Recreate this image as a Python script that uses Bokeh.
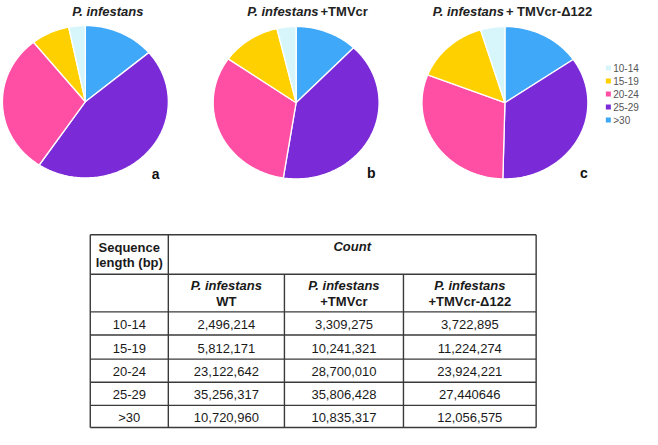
import numpy as np
from bokeh.plotting import figure
from bokeh.models import Range1d
from bokeh.embed import file_html
from bokeh.resources import INLINE
from bokeh.core.properties import value

# ---------------- data ----------------
size_classes = ["10-14", "15-19", "20-24", "25-29", ">30"]
wt_counts = ["2,496,214", "5,812,171", "23,122,642", "35,256,317", "10,720,960"]
tmv_counts = ["3,309,275", "10,241,321", "28,700,010", "35,806,428", "10,835,317"]
d122_counts = ["3,722,895", "11,224,274", "23,924,221", "27,440646", "12,056,575"]
colors = ["#d6f6fc", "#ffd000", "#ff4fa5", "#7a2ad6", "#3fa8f8"]
panel_letters = ["a", "b", "c"]
title_italic = ["P. infestans", "P. infestans", "P. infestans"]
title_plain = ["", "+TMVcr", "+ TMVcr-\u0394122"]
col_head_italic = ["P. infestans", "P. infestans", "P. infestans"]
col_head_plain = ["WT", "+TMVcr", "+TMVcr-\u0394122"]

FONT = value("Liberation Sans")

# ---------------- layout (reference pixel units) ----------------
W, H = 658, 445
p = figure(width=642, height=429, x_range=Range1d(0, W), y_range=Range1d(H, 0),
           toolbar_location=None, output_backend="svg", min_border=0)
p.axis.visible = False
p.grid.visible = False
p.outline_line_color = None
p.background_fill_color = "white"

centers = [(87, 105), (303, 106), (517, 106)]
rx, ry = 85, 79
series = [wt_counts, tmv_counts, d122_counts]

xs, ys, fills = [], [], []
for (cx, cy), counts in zip(centers, series):
    vals = np.array([int(s.replace(",", "")) for s in counts], float)
    frac = vals / vals.sum()
    start = 0.0
    for i in reversed(range(len(vals))):
        end = start + frac[i] * 2 * np.pi
        n = max(4, int(np.degrees(end - start)) + 2)
        t = np.linspace(start, end, n)
        xs.append([cx] + list(cx + rx * np.sin(t)))
        ys.append([cy] + list(cy - ry * np.cos(t)))
        fills.append(colors[i])
        start = end
p.patches(xs, ys, fill_color=fills, line_color="white", line_width=1.3)

# titles
split_x = [None, 326, 516]
for k in range(3):
    if split_x[k] is None:
        p.text(x=[110], y=[11], text=[title_italic[k]], text_font=FONT, text_font_size="13px",
               text_font_style="bold italic", text_align="center", text_baseline="middle",
               text_color="#222222")
    else:
        p.text(x=[split_x[k]], y=[11], text=[title_italic[k]], text_font=FONT, text_font_size="13px",
               text_font_style="bold italic", text_align="right", text_baseline="middle",
               text_color="#222222")
        p.text(x=[split_x[k] + 2], y=[11], text=[title_plain[k]], text_font=FONT, text_font_size="13px",
               text_font_style="bold", text_align="left", text_baseline="middle",
               text_color="#222222")

# panel letters
letter_pos = [(159, 180), (380, 179), (598, 179)]
p.text(x=[a for a, b in letter_pos], y=[b for a, b in letter_pos], text=panel_letters,
       text_font=FONT, text_font_size="14px", text_font_style="bold", text_align="center",
       text_baseline="middle", text_color="#111111")

# legend
leg_y = [70 + 13.5 * i for i in range(len(size_classes))]
p.scatter(x=[623] * len(size_classes), y=leg_y, marker="square", size=5, fill_color=colors,
          line_color=None)
p.text(x=[628] * len(size_classes), y=leg_y, text=size_classes, text_font=FONT,
       text_font_size="10px", text_align="left", text_baseline="middle", text_color="#555555")

# ---------------- table ----------------
col_edges = [92, 172, 291, 413, 549]
row_edges = [243, 284, 323, 347, 372, 396, 420, 443]
lc = "#3a3a3a"
lw = 1.4
# horizontal lines
p.segment(x0=[col_edges[0]] * len(row_edges), x1=[col_edges[-1]] * len(row_edges),
          y0=row_edges, y1=row_edges, line_color=lc, line_width=lw)
# vertical lines
vx = [col_edges[0], col_edges[1], col_edges[4], col_edges[2], col_edges[3]]
vy0 = [row_edges[0], row_edges[0], row_edges[0], row_edges[1], row_edges[1]]
p.segment(x0=vx, x1=vx, y0=vy0, y1=[row_edges[-1]] * 5, line_color=lc, line_width=lw)

tc = "#1a1a1a"
c1 = (col_edges[0] + col_edges[1]) / 2
p.text(x=[c1, c1], y=[256, 272], text=["Sequence", "length (bp)"], text_font=FONT,
       text_font_size="13px", text_font_style="bold", text_align="center",
       text_baseline="middle", text_color=tc)
p.text(x=[(col_edges[1] + col_edges[4]) / 2], y=[255], text=["Count"], text_font=FONT,
       text_font_size="13px", text_font_style="bold italic", text_align="center",
       text_baseline="middle", text_color=tc)
ccent = [(col_edges[j] + col_edges[j + 1]) / 2 for j in range(1, 4)]
p.text(x=ccent, y=[296] * 3, text=col_head_italic, text_font=FONT, text_font_size="13px",
       text_font_style="bold italic", text_align="center", text_baseline="middle", text_color=tc)
p.text(x=ccent, y=[312] * 3, text=col_head_plain, text_font=FONT, text_font_size="13px",
       text_font_style="bold", text_align="center", text_baseline="middle", text_color=tc)

rcent = [(row_edges[j] + row_edges[j + 1]) / 2 + 1 for j in range(2, 7)]
p.text(x=[c1] * 5, y=rcent, text=size_classes, text_font=FONT, text_font_size="13px",
       text_align="center", text_baseline="middle", text_color=tc)
for j, counts in enumerate(series):
    p.text(x=[ccent[j]] * 5, y=rcent, text=counts, text_font=FONT, text_font_size="13px",
           text_align="center", text_baseline="middle", text_color=tc)

open("out.html", "w").write(file_html(p, INLINE))
